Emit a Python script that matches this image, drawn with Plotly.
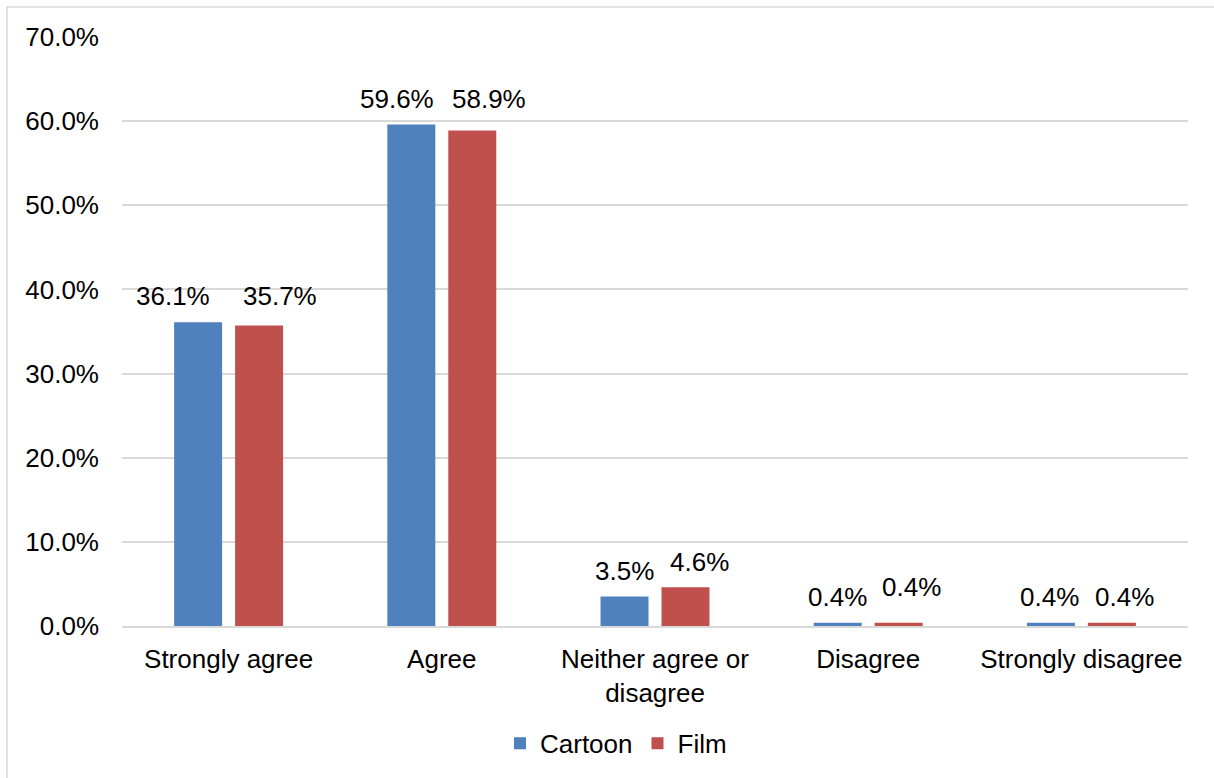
import plotly.graph_objects as go

categories = ["Strongly agree", "Agree", "Neither agree or<br>disagree", "Disagree", "Strongly disagree"]
cartoon = [0.361, 0.596, 0.035, 0.004, 0.004]
film = [0.357, 0.589, 0.046, 0.004, 0.004]
y_ticks = [0, 0.1, 0.2, 0.3, 0.4, 0.5, 0.6, 0.7]

# hand-placed data label nudges (pixels), as in the original chart
cartoon_label_dx = [-25, -14, -0.5, 0, -1]
cartoon_label_dy = [26, 26, 26, 26, 26]
film_label_dx = [21, 17, 14, 12.5, 13]
film_label_dy = [30, 31, 25, 36, 26]
BAR_OFFSET = 30.5  # half of one bar slot, px

FONT = "Liberation Sans, Arial, sans-serif"
FS = 26
fig = go.Figure()
fig.add_trace(go.Bar(name="Cartoon", x=categories, y=cartoon, marker_color="#4F81BD",
                     marker_line_width=0))
fig.add_trace(go.Bar(name="Film", x=categories, y=film, marker_color="#C0504D",
                     marker_line_width=0))

annotations = []
for cat, v, dx, dy in zip(categories, cartoon, cartoon_label_dx, cartoon_label_dy):
    annotations.append(dict(x=cat, y=v, xref="x", yref="y", text=f"{v*100:.1f}%",
                            showarrow=False, xanchor="center", yanchor="middle",
                            xshift=-BAR_OFFSET + dx, yshift=dy,
                            font=dict(size=FS, color="#000000", family=FONT)))
for cat, v, dx, dy in zip(categories, film, film_label_dx, film_label_dy):
    annotations.append(dict(x=cat, y=v, xref="x", yref="y", text=f"{v*100:.1f}%",
                            showarrow=False, xanchor="center", yanchor="middle",
                            xshift=BAR_OFFSET + dx, yshift=dy,
                            font=dict(size=FS, color="#000000", family=FONT)))

fig.update_layout(
    width=1214, height=778,
    margin=dict(l=122, r=26, t=37, b=151),
    paper_bgcolor="white", plot_bgcolor="white",
    font=dict(family=FONT, size=FS, color="#000000"),
    barmode="group", bargap=0.428, bargroupgap=0.213,
    showlegend=True,
    legend=dict(orientation="h", x=0.3546, xanchor="left", y=-0.197, yanchor="middle",
                font=dict(size=FS), traceorder="normal"),
    annotations=annotations,
    shapes=[dict(type="rect", xref="paper", yref="paper",
                 x0=-0.1079, x1=1.2, y0=-0.4, y1=1.0508,
                 line=dict(color="#D9D9D9", width=1.5), fillcolor="rgba(0,0,0,0)", layer="below")],
)
fig.update_yaxes(range=[0, 0.7], tickvals=y_ticks, tickformat=".1%", showgrid=True,
                 gridcolor="#D9D9D9", gridwidth=1.5, zeroline=False, showline=False,
                 ticks="", ticklabelstandoff=22, tickfont=dict(size=FS))
fig.update_xaxes(showline=True, linecolor="#D9D9D9", linewidth=1.5, ticks="",
                 ticklabelstandoff=9, tickfont=dict(size=FS))

fig.write_html("out.html")
